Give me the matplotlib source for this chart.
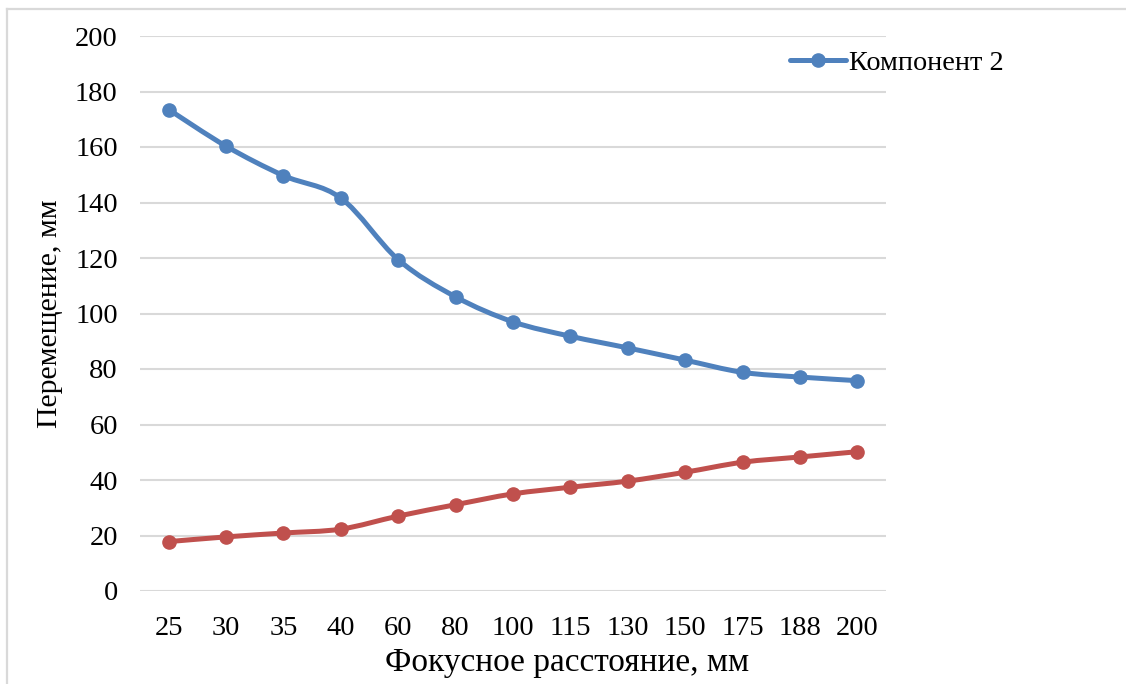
import numpy as np
import matplotlib
matplotlib.use("Agg")
import matplotlib.pyplot as plt
import matplotlib.patches as mpatches
from matplotlib.lines import Line2D
from matplotlib.path import Path

plt.rcParams['font.family'] = ['Liberation Serif', 'DejaVu Serif']

focal = ["25", "30", "35", "40", "60", "80", "100", "115", "130", "150", "175", "188", "200"]
component_2 = [173.5, 160.3, 149.7, 141.6, 119.4, 106.0, 97.0, 91.8, 87.6, 83.2, 78.8, 77.1, 75.8]
component_1 = [17.8, 19.5, 20.9, 22.3, 27.0, 31.1, 35.0, 37.4, 39.6, 42.8, 46.4, 48.3, 50.2]

BLUE = "#4f81bd"
RED = "#c0504d"
GRID = "#d9d9d9"


def smooth_path(x, y, tension=1 / 6):
    """Bezier path through the points, similar to office-style smoothed lines."""
    x = np.asarray(x, float)
    y = np.asarray(y, float)
    n = len(x)
    verts = [(x[0], y[0])]
    codes = [Path.MOVETO]
    for i in range(n - 1):
        p0 = np.array([x[max(i - 1, 0)], y[max(i - 1, 0)]])
        p1 = np.array([x[i], y[i]])
        p2 = np.array([x[i + 1], y[i + 1]])
        p3 = np.array([x[min(i + 2, n - 1)], y[min(i + 2, n - 1)]])
        c1 = p1 + (p2 - p0) * tension
        c2 = p2 - (p3 - p1) * tension
        verts += [tuple(c1), tuple(c2), tuple(p2)]
        codes += [Path.CURVE4] * 3
    return Path(verts, codes)


fig = plt.figure(figsize=(11.26, 6.84), dpi=100)
ax = fig.add_axes([140 / 1126, 1 - 591 / 684, (886 - 140) / 1126, (591 - 36) / 684])

xs = np.arange(len(focal))
for vals, color in [(component_2, BLUE), (component_1, RED)]:
    patch = mpatches.PathPatch(smooth_path(xs, vals), facecolor="none", edgecolor=color,
                               lw=3.6, capstyle="round", joinstyle="round", zorder=3)
    ax.add_patch(patch)
    ax.plot(xs, vals, linestyle="none", marker="o", markersize=9.5, color=color, zorder=4)

ax.set_xlim(-0.5, len(focal) - 0.5)
ax.set_ylim(0, 200)
ax.set_yticks(np.arange(0, 201, 20))
ax.set_xticks(xs)
ax.set_xticklabels(focal)
ax.grid(axis="y", color=GRID, lw=1.5)
ax.set_axisbelow(True)
for s in ax.spines.values():
    s.set_visible(False)
ax.tick_params(axis="both", length=0, labelsize=20.5, colors="black")
ax.tick_params(axis="y", pad=16)
ax.tick_params(axis="x", pad=18)

ax.set_xlabel("Фокусное расстояние, мм", fontsize=24, labelpad=5)
ax.xaxis.label.set_x(0.572)
ax.set_ylabel("Перемещение, мм", fontsize=21.5, labelpad=9)

handle = Line2D([], [], color=BLUE, lw=3.6, marker="o", markersize=9.5, solid_capstyle="round")
fig.legend([handle], ["Компонент 2"], loc="center left", bbox_to_anchor=(790 / 1126, 1 - 63 / 684),
           frameon=False, fontsize=20.3, handlelength=2.0, handletextpad=0.1, borderpad=0, borderaxespad=0)

# chart area border (top and left edges)
fig.add_artist(Line2D([7 / 1126, 7 / 1126], [0, 1 - 9 / 684], color=GRID, lw=1.6, transform=fig.transFigure))
fig.add_artist(Line2D([7 / 1126, 1], [1 - 9 / 684, 1 - 9 / 684], color=GRID, lw=1.6, transform=fig.transFigure))

fig.savefig("out.png", dpi=100)
